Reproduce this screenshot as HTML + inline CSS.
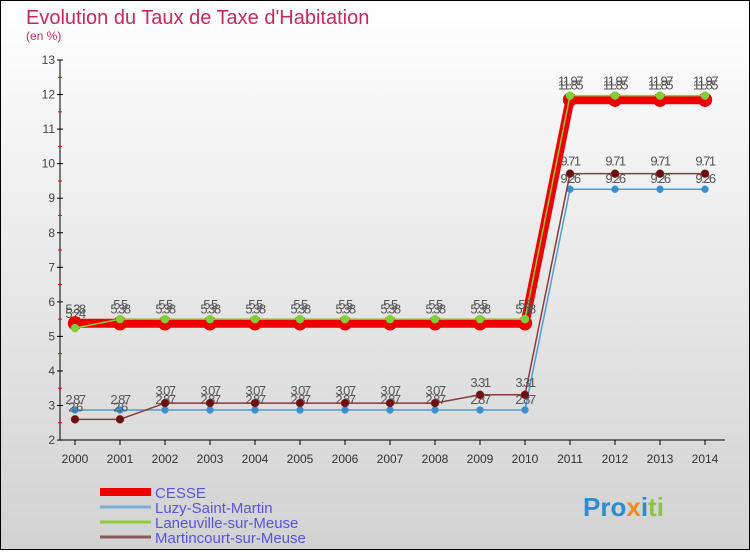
<!DOCTYPE html>
<html><head><meta charset="utf-8"><style>
html,body{margin:0;padding:0}
body{width:750px;height:550px;overflow:hidden;font-family:"Liberation Sans",sans-serif}
</style></head><body>
<svg width="750" height="550" xmlns="http://www.w3.org/2000/svg">
<defs><linearGradient id="bg" x1="0" y1="0" x2="0" y2="1"><stop offset="0" stop-color="#ffffff"/><stop offset="1" stop-color="#d2d2d2"/></linearGradient></defs>
<rect x="0.5" y="0.5" width="749" height="549" fill="url(#bg)" stroke="#000"/>
<text x="26" y="24" font-size="20" fill="#c8285a">Evolution du Taux de Taxe d'Habitation</text>
<text x="26" y="40" font-size="12" fill="#c8285a">(en %)</text>
<g id="axes"></g><g id="series"></g><g id="legend"></g>
<text x="583" y="516" font-size="26" font-weight="bold" fill="#2a8fd0">Pro<tspan fill="#f08a1c">x</tspan><tspan fill="#2a8fd0">i</tspan><tspan fill="#8cc63f">ti</tspan></text>
</svg>
<script>
const years=[2000,2001,2002,2003,2004,2005,2006,2007,2008,2009,2010,2011,2012,2013,2014];
const yTicks=[2,3,4,5,6,7,8,9,10,11,12,13];
const cesse=[5.38,5.38,5.38,5.38,5.38,5.38,5.38,5.38,5.38,5.38,5.38,11.85,11.85,11.85,11.85];
const luzy=[2.87,2.87,2.87,2.87,2.87,2.87,2.87,2.87,2.87,2.87,2.87,9.26,9.26,9.26,9.26];
const laneuville=[5.24,5.5,5.5,5.5,5.5,5.5,5.5,5.5,5.5,5.5,5.5,11.97,11.97,11.97,11.97];
const martincourt=[2.6,2.6,3.07,3.07,3.07,3.07,3.07,3.07,3.07,3.31,3.31,9.71,9.71,9.71,9.71];
const seriesNames=["CESSE","Luzy-Saint-Martin","Laneuville-sur-Meuse","Martincourt-sur-Meuse"];
const NS="http://www.w3.org/2000/svg";
const x=i=>75+i*45;
const y=v=>60+(13-v)*34.55;
function mk(tag,attrs,parent,text){const e=document.createElementNS(NS,tag);for(const k in attrs)e.setAttribute(k,attrs[k]);if(text!==undefined)e.textContent=text;parent.appendChild(e);return e;}
const ax=document.getElementById('axes');
let a=mk('line',{x1:60,y1:60,x2:60,y2:440,stroke:'#000'},ax);


a=mk('line',{x1:60,y1:440,x2:725,y2:440,stroke:'#000'},ax);


yTicks.forEach(v=>{
 mk('line',{x1:57,y1:y(v),x2:63,y2:y(v),stroke:'#000'},ax);
 if(v<13) mk('line',{x1:58,y1:y(v+0.5),x2:62,y2:y(v+0.5),stroke:'#e00'},ax);
 const t=mk('text',{x:55,y:y(v)+4,'font-size':12,fill:'#444','text-anchor':'end'},ax,String(v));
 
 
});
years.forEach((yr,i)=>{
 mk('line',{x1:x(i),y1:440,x2:x(i),y2:445,stroke:'#000'},ax);
 const t=mk('text',{x:x(i),y:463,'font-size':12,fill:'#333','text-anchor':'middle'},ax,String(yr));
 
 
});
const sg=document.getElementById('series');
function draw(vals,color,w,r,dot,name,labOff){
 const g=mk('g',{},sg);
 
 
 mk('polyline',{points:vals.map((v,i)=>x(i)+','+y(v)).join(' '),fill:'none',stroke:color,'stroke-width':w},g);
 vals.forEach((v,i)=>{
  const c=mk('circle',{cx:x(i),cy:y(v),r:r,fill:dot,stroke:color,'stroke-width':0.5},g);
  
  
  mk('text',{x:x(i),y:y(v)+labOff,'font-size':13,fill:'#555','text-anchor':'middle','letter-spacing':'-1.5'},g,String(v));
 });
}
draw(luzy,'#4a9fd8',1.5,3.5,'#3a8fd0','series-luzy',-6);
draw(martincourt,'#8a3a3a',1.5,4,'#6a1010','series-martincourt',-8);
draw(cesse,'#ee0000',9,7,'#ee0000','series-cesse',-10);
draw(laneuville,'#8fcc3a',1.5,4,'#7ed03a','series-laneuville',-10);
const lg=document.getElementById('legend');
const cols=['#ee0000','#7aaed0','#8fcc3a','#8a5a5a'],ws=[8,3,3,3];
seriesNames.forEach((n,i)=>{
 const yy=492+i*15;
 const g=mk('g',{},lg);
 
 
 mk('line',{x1:100,y1:yy,x2:151,y2:yy,stroke:cols[i],'stroke-width':ws[i]},g);
 mk('text',{x:155,y:yy+6,'font-size':15,fill:'#5555dd'},g,n);
});
</script>
</body></html>
